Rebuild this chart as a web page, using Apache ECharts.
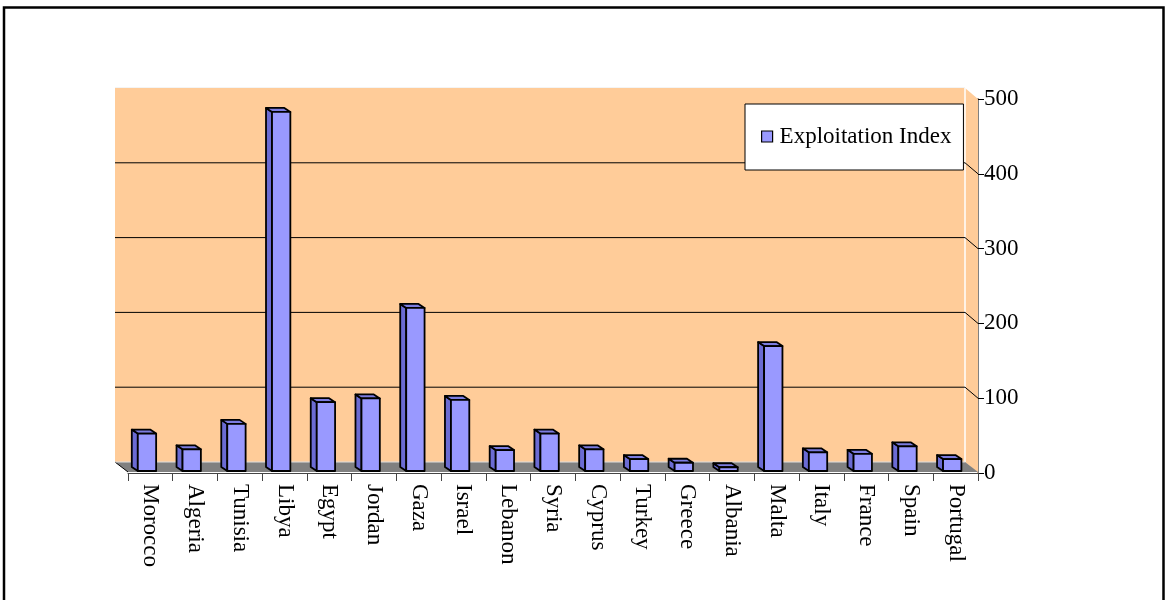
<!DOCTYPE html>
<html><head><meta charset="utf-8">
<script src="https://cdn.jsdelivr.net/npm/echarts@6/dist/echarts.min.js"></script>
<style>html,body{margin:0;padding:0;background:#fff}#c{width:1167px;height:600px}</style>
</head><body><div id="c"></div>
<script>
const categories = ['Morocco','Algeria','Tunisia','Libya','Egypt','Jordan','Gaza','Israel','Lebanon','Syria','Cyprus','Turkey','Greece','Albania','Malta','Italy','France','Spain','Portugal'];
const exploitationIndex = [50, 29, 63, 480, 92, 97, 218, 95, 28, 50, 29, 16, 11, 5, 167, 25, 23, 33, 16];
const yTicks = [0, 100, 200, 300, 400, 500];
const seriesName = 'Exploitation Index';

const FONT = '"Liberation Serif", "Times New Roman", serif';
const WALL = [-13, -11];   // depth of back wall relative to front plane
const BAR_OFF = [-3.4, -2]; // front face offset of bars
const BAR_DEPTH = [-6, -4];

const chart = echarts.init(document.getElementById('c'), null, {renderer: 'canvas'});

function wallsRender(params, api) {
  const cs = params.coordSys;
  const L = cs.x, R = cs.x + cs.width, T = cs.y, B = cs.y + cs.height;
  const dx = WALL[0], dy = WALL[1];
  const children = [];
  children.push({type: 'rect', shape: {x: L + dx, y: T + dy, width: cs.width, height: cs.height},
    style: {fill: '#FFCC99', stroke: null}});
  children.push({type: 'polygon', shape: {points: [[R + dx, T + dy], [R, T], [R, B], [R + dx, B + dy]]},
    style: {fill: '#FFCC99', stroke: null}});
  children.push({type: 'line', shape: {x1: R + dx, y1: T + dy, x2: R + dx, y2: B + dy},
    style: {stroke: '#ffffff', lineWidth: 1.5}});
  children.push({type: 'line', shape: {x1: L + dx, y1: T + dy - 0.5, x2: R + dx, y2: T + dy - 0.5},
    style: {stroke: '#f4f4f4', lineWidth: 1}});
  yTicks.forEach(function (v) {
    if (v === 0 || v === 500) return;
    const y = api.coord([0, v])[1];
    children.push({type: 'line', shape: {x1: L + dx, y1: y + dy, x2: R + dx, y2: y + dy},
      style: {stroke: '#000', lineWidth: 1}});
    children.push({type: 'line', shape: {x1: R + dx, y1: y + dy, x2: R, y2: y},
      style: {stroke: '#000', lineWidth: 1}});
  });
  children.push({type: 'polygon', shape: {points: [[L + dx, B + dy], [R + dx, B + dy], [R, B - 1], [L, B - 1]]},
    style: {fill: '#808080', stroke: null}});
  children.push({type: 'line', shape: {x1: L + dx, y1: B + dy, x2: L, y2: B - 1},
    style: {stroke: '#000', lineWidth: 1}});
  children.push({type: 'line', shape: {x1: L + dx, y1: B + dy, x2: R + dx, y2: B + dy},
    style: {stroke: '#dddddd', lineWidth: 1}});
  return {type: 'group', children: children};
}

function barRender(params, api) {
  const i = api.value(0), v = api.value(1);
  const base = api.coord([i, 0]);
  const top = api.coord([i, v]);
  const catW = api.size([1, 0])[0];
  const w = catW * 0.41;
  const x0 = base[0] - w / 2 + BAR_OFF[0];
  const x1 = x0 + w;
  const yb = base[1] + BAR_OFF[1];
  const yt = top[1] + BAR_OFF[1];
  const ddx = BAR_DEPTH[0], ddy = BAR_DEPTH[1];
  const st = {stroke: '#000', lineWidth: 1.8, lineJoin: 'round'};
  return {type: 'group', children: [
    {type: 'polygon', shape: {points: [[x0 + ddx, yt + ddy], [x0, yt], [x0, yb], [x0 + ddx, yb + ddy]]},
      style: Object.assign({fill: '#6B6BD3'}, st)},
    {type: 'polygon', shape: {points: [[x0 + ddx, yt + ddy], [x1 + ddx, yt + ddy], [x1, yt], [x0, yt]]},
      style: Object.assign({fill: '#7C7CE0'}, st)},
    {type: 'rect', shape: {x: x0, y: yt, width: w, height: yb - yt},
      style: Object.assign({fill: '#9999FF'}, st)}
  ]};
}

chart.setOption({
  backgroundColor: '#ffffff',
  animation: false,
  graphic: [{type: 'rect', z: 100, shape: {x: 4, y: 7.5, width: 1159.5, height: 700},
    style: {fill: null, stroke: '#000', lineWidth: 2.5}}],
  legend: {
    data: [{name: seriesName, itemStyle: {color: '#9999FF', borderColor: '#000', borderWidth: 1.2}}],
    left: 745, top: 104,
    backgroundColor: '#fff', borderColor: '#000', borderWidth: 1,
    padding: [21, 12, 22, 16],
    icon: 'rect', itemWidth: 11, itemHeight: 11,
    textStyle: {fontFamily: FONT, fontSize: 23, color: '#000', padding: [0, 0, 0, 2]},
    selectedMode: false
  },
  grid: {left: 128, right: 189, top: 99, bottom: 127, containLabel: false},
  xAxis: {
    type: 'category', data: categories,
    axisLine: {show: true, lineStyle: {color: '#444', width: 1}},
    axisTick: {show: true, length: 8, lineStyle: {color: '#444'}},
    axisLabel: {rotate: -90, margin: 11, fontFamily: FONT, fontSize: 23, color: '#000'},
    splitLine: {show: false}
  },
  yAxis: {
    type: 'value', position: 'right', min: 0, max: 500, interval: 100,
    axisLine: {show: true, lineStyle: {color: '#808080', width: 2}},
    axisTick: {show: true, length: 6, lineStyle: {color: '#000'}},
    axisLabel: {margin: 6, fontFamily: FONT, fontSize: 23, color: '#000'},
    splitLine: {show: false}
  },
  series: [
    {type: 'custom', name: 'walls', renderItem: wallsRender, data: [[0, 0]], silent: true, z: 1, clip: false},
    {type: 'custom', name: seriesName, renderItem: barRender, z: 2, clip: false,
      itemStyle: {color: '#9999FF'},
      data: exploitationIndex.map(function (v, i) { return [i, v]; })}
  ]
});
</script></body></html>
